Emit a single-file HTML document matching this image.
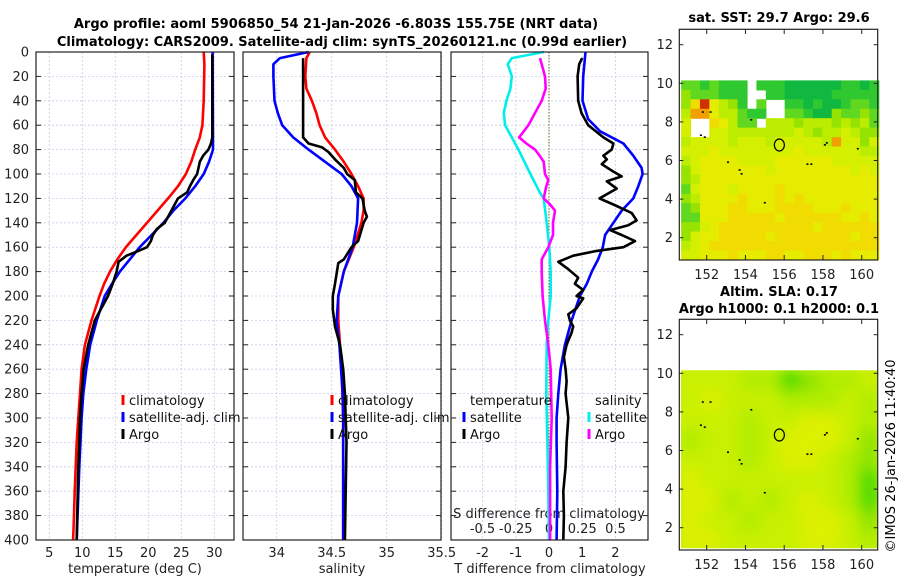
<!DOCTYPE html>
<html><head><meta charset="utf-8">
<style>
html,body{margin:0;padding:0;background:#fff;}
svg{display:block;font-family:"DejaVu Sans","Liberation Sans",sans-serif;}
</style></head>
<body>
<svg id="fig" width="900" height="580" viewBox="0 0 900 580" xmlns="http://www.w3.org/2000/svg">
<defs>
<filter id="blur" x="-5%" y="-5%" width="110%" height="110%"><feGaussianBlur stdDeviation="7" edgeMode="duplicate"/></filter>
<clipPath id="clipMap2"><rect x="681" y="370.3" width="196" height="178"/></clipPath>
</defs>
<text x="336" y="28" text-anchor="middle" font-size="13" font-weight="bold">Argo profile: aoml 5906850_54 21-Jan-2026 -6.803S 155.75E (NRT data)</text>
<text x="342" y="46" text-anchor="middle" font-size="13" font-weight="bold">Climatology: CARS2009. Satellite-adj clim: synTS_20260121.nc (0.99d earlier)</text>
<text x="779" y="22" text-anchor="middle" font-size="13" font-weight="bold">sat. SST: 29.7 Argo: 29.6</text>
<text x="779" y="296" text-anchor="middle" font-size="13" font-weight="bold">Altim. SLA: 0.17</text>
<text x="779" y="313" text-anchor="middle" font-size="13" font-weight="bold">Argo h1000: 0.1 h2000: 0.1</text>
<text transform="translate(895,456) rotate(-90)" text-anchor="middle" font-size="13">©IMOS 26-Jan-2026 11:40:40</text>
<g id="layer"></g>
</svg>
<script>
// ---------- profile data ----------
const tClimDepth=[0,10,40,60,70,80,90,100,110,120,130,140,150,160,170,180,190,200,220,240,260,280,300,320,340,360,380,400];
const tClimVal=[28.4,28.5,28.4,28.2,27.8,27.1,26.5,25.7,24.5,23.0,21.4,19.8,18.2,16.6,15.3,14.2,13.3,12.6,11.4,10.4,9.9,9.65,9.4,9.15,9.0,8.85,8.75,8.6];
const tSatDepth=[0,80,90,100,110,120,130,140,150,160,170,180,190,200,220,240,260,280,300,340,400];
const tSatVal=[29.75,29.8,29.2,28.4,27.1,25.6,23.8,22.3,20.5,18.7,17.2,15.7,14.5,13.4,12.2,11.2,10.6,10.15,9.9,9.55,9.15];
const tArgoDepth=[2,70,75,80,85,90,95,100,105,110,115,120,125,130,140,145,150,155,160,163,167,172,180,190,200,220,240,260,280,300,320,340,400];
const tArgoVal=[29.7,29.7,29.5,29.1,28.3,27.8,27.6,27.4,26.8,26.3,25.9,24.5,24.0,23.5,22.5,21.3,20.7,20.4,19.8,18.5,16.7,15.5,15.2,14.6,13.9,11.9,10.9,10.2,9.9,9.65,9.55,9.4,9.15];

const sClimDepth=[0,5,20,30,40,50,60,70,80,90,100,110,120,130,140,160,180,200,220,240,260,300,400];
const sClimVal=[34.30,34.27,34.26,34.27,34.32,34.36,34.39,34.44,34.53,34.61,34.68,34.74,34.79,34.79,34.77,34.70,34.61,34.56,34.56,34.575,34.59,34.605,34.605];
const sSatDepth=[0,5,10,20,40,50,60,70,80,90,100,110,120,140,160,180,200,220,240,280,300,400];
const sSatVal=[34.29,34.03,33.97,33.97,33.98,34.01,34.05,34.15,34.29,34.44,34.59,34.68,34.74,34.73,34.69,34.61,34.56,34.545,34.57,34.60,34.605,34.605];
const sArgoDepth=[5,70,75,78,82,88,95,100,105,115,120,130,135,140,155,160,170,173,190,200,211,225,240,260,280,320,400];
const sArgoVal=[34.24,34.24,34.29,34.41,34.47,34.53,34.61,34.64,34.71,34.72,34.78,34.80,34.82,34.79,34.74,34.68,34.61,34.56,34.53,34.51,34.51,34.53,34.575,34.605,34.62,34.635,34.62];

const dSsatDepth=[0,5,10,20,30,40,50,60,70,80,100,115,120,140,160,180,200,220,240,280,320,360,400];
const dSsatVal=[-0.038,-0.28,-0.31,-0.28,-0.29,-0.32,-0.34,-0.33,-0.28,-0.23,-0.14,-0.07,-0.04,-0.017,0.002,0.013,0.013,-0.005,-0.017,-0.02,-0.012,-0.005,0];
const dSargoDepth=[5,20,30,40,50,60,70,75,80,85,90,100,105,110,120,125,130,140,150,160,170,180,200,220,240,260,300,340,400];
const dSargoVal=[-0.068,-0.03,-0.025,-0.055,-0.105,-0.155,-0.225,-0.17,-0.105,-0.07,-0.04,-0.03,-0.005,-0.02,-0.04,0.008,0.045,0.03,0.03,-0.005,-0.055,-0.055,-0.048,-0.03,-0.005,0.013,0.02,0.008,0.008];
const dTsatDepth=[0,20,40,55,65,75,85,95,100,110,120,130,140,150,160,170,180,190,200,220,240,260,280,300,320,360,400];
const dTsatVal=[1.1,1.03,1.01,1.18,1.54,2.24,2.54,2.79,2.82,2.69,2.54,2.19,1.94,1.69,1.62,1.48,1.29,1.14,0.93,0.68,0.48,0.35,0.28,0.23,0.23,0.25,0.23];
const dTargoDepth=[5,10,20,40,50,60,70,75,80,85,88,92,98,102,106,112,120,125,132,138,142,146,150,155,160,163,167,172,178,185,190,195,200,202,210,215,220,225,230,240,250,260,270,280,300,320,340,360,380,400];
const dTargoVal=[1.0,0.91,0.86,0.88,0.98,1.18,1.64,1.94,1.89,1.64,1.74,1.59,1.94,2.19,1.74,2.04,1.52,1.94,2.49,2.64,2.39,1.84,2.19,2.59,2.24,1.44,0.73,0.28,0.58,0.88,0.78,1.03,0.83,1.03,0.83,0.58,0.63,0.73,0.68,0.53,0.45,0.5,0.53,0.5,0.58,0.53,0.5,0.43,0.45,0.43];

const depthTicks=[0,20,40,60,80,100,120,140,160,180,200,220,240,260,280,300,320,340,360,380,400];
const tempTicks=[5,10,15,20,25,30];
const salTicks=[34,34.5,35,35.5];
const tdiffTicks=[-2,-1,0,1,2];
const sdiffTicks=[-0.5,-0.25,0,0.25,0.5];
const sdiffTickLabels=["-0.5","-0.25","0","0.25","0.5"];

// ---------- map data (rows from north, 21 cols) ----------
const sstRows=[
"2212111"+"w111000"+"0001101",
"3222111"+"ww11000"+"0011111",
"3796431"+"w2ww110"+"1001221",
"4886442"+"11ww221"+"0032232",
"5ww7642"+"2w44434"+"4434342",
"5ww5544"+"4444454"+"3445433",
"4555545"+"5545555"+"5485535",
"5556555"+"5555565"+"5555544",
"4566665"+"5556666"+"6655555",
"3566666"+"6656666"+"6666565",
"3466666"+"6666666"+"6666666",
"2566656"+"6667666"+"6666666",
"3466667"+"6667676"+"6666666",
"2366677"+"6667777"+"6667666",
"2266677"+"7776777"+"7776676",
"3356777"+"7777777"+"6777777",
"3566777"+"7767777"+"7777677",
"4567777"+"7777777"+"7777777",
"5566676"+"6677667"+"7767666"
];
const slaRows=["bbbccedccb","babbbcccbc","bbbcbbaabc","cbbcbaaabd","bbbcbaabcd","abbbbbbbce","aacbcbabce","abbcbbaabd","aabbbbaabc"];
const sstPalette={"0":"#10b840","1":"#30c830","2":"#60d820","3":"#96e200","4":"#bcec00","5":"#d4f000","6":"#e6ec00","7":"#f0dc00","8":"#f0a000","9":"#d03000"};
const slaPalette={a:"#dcf000",b:"#c8f000",c:"#b0ec00",d:"#8ee400",e:"#4cdc00"};
const coastLon=[151.8,152.2,154.3,151.7,151.9,153.1,153.7,153.8,157.2,157.4,158.2,158.1,159.8,155.0];
const coastLat=[8.5,8.5,8.1,7.3,7.2,5.9,5.5,5.3,5.8,5.8,6.9,6.8,6.6,3.8];
const argoLon=155.75, argoLat=6.803;

// ---------- helpers ----------
const NS="http://www.w3.org/2000/svg";
const layer=document.getElementById('layer');
function mk(tag,attrs,parent){const e=document.createElementNS(NS,tag);for(const k in attrs)e.setAttribute(k,attrs[k]);(parent||layer).appendChild(e);return e;}
const Y0=52,Y1=540;
const yD=d=>Y0+d*(Y1-Y0)/400;
const panels=[
 {x0:36,x1:234,name:'temperature-panel'},
 {x0:243,x1:441,name:'salinity-panel'},
 {x0:451,x1:648,name:'difference-panel'}
];
const xT=t=>49.3+(t-5)*6.6;
const xS=s=>276.7+(s-34)*110;
const xdT=t=>549+t*33.2;
const xdS=s=>549+s*133;

panels.forEach((p,i)=>{
 const g=mk('g',{});
 
 
 depthTicks.forEach(d=>{
  const l=mk('line',{x1:p.x0,x2:p.x1,y1:yD(d),y2:yD(d),stroke:'#c4cce8','stroke-width':0.8,'stroke-dasharray':'2,2'},g);
  
  
  mk('line',{x1:p.x0,x2:p.x0+5,y1:yD(d),y2:yD(d),stroke:'#222'},g);
  mk('line',{x1:p.x1-5,x2:p.x1,y1:yD(d),y2:yD(d),stroke:'#222'},g);
 });
 let xs=[];
 if(i===0)xs=tempTicks.map(xT);
 if(i===1)xs=salTicks.map(xS);
 if(i===2)xs=tdiffTicks.map(xdT);
 xs.forEach(x=>{
  const l=mk('line',{x1:x,x2:x,y1:Y0,y2:Y1,stroke:'#c4cce8','stroke-width':0.8,'stroke-dasharray':'2,2'},g);
  
  
 });
});

depthTicks.forEach(d=>{
 const t=mk('text',{x:29,y:yD(d)+4.5,'text-anchor':'end','font-size':13,fill:'#222'});
 t.textContent=d;
 
 
});
function xlab(list,fx,labels,y,name){list.forEach((v,k)=>{const t=mk('text',{x:fx(v),y:y,'text-anchor':'middle','font-size':13,fill:'#222'});t.textContent=labels?labels[k]:v;});}
xlab(tempTicks,xT,null,557,'temperature-tick-label');
xlab(salTicks,xS,null,557,'salinity-tick-label');
xlab(tdiffTicks,xdT,null,557,'tdiff-tick-label');
xlab(sdiffTicks,xdS,sdiffTickLabels,533,'sdiff-tick-label');
const at=[[135,573,'temperature (deg C)','x-axis-title-temperature'],[342,573,'salinity','x-axis-title-salinity'],[550,573,'T difference from climatology','x-axis-title-tdiff'],[549,518,'S difference from climatology','x-axis-title-sdiff']];
at.forEach(a=>{const t=mk('text',{x:a[0],y:a[1],'text-anchor':'middle','font-size':13,fill:'#222'});t.textContent=a[2];});

const zl=mk('line',{x1:549,x2:549,y1:Y0,y2:Y1,stroke:'#6b6b20','stroke-width':1,'stroke-dasharray':'1.5,1.5'});



function series(depths,vals,fx,color,name){
 const pts=depths.map((d,k)=>fx(vals[k]).toFixed(1)+','+yD(d).toFixed(1)).join(' ');
 const pl=mk('polyline',{points:pts,fill:'none',stroke:color,'stroke-width':2.6,'stroke-linejoin':'round'});
 
 
}
series(tClimDepth,tClimVal,xT,'#ff0000','temp-climatology-line');
series(tSatDepth,tSatVal,xT,'#0000ff','temp-satellite-adj-line');
series(tArgoDepth,tArgoVal,xT,'#000','temp-argo-line');
series(sClimDepth,sClimVal,xS,'#ff0000','sal-climatology-line');
series(sSatDepth,sSatVal,xS,'#0000ff','sal-satellite-adj-line');
series(sArgoDepth,sArgoVal,xS,'#000','sal-argo-line');
series(dSsatDepth,dSsatVal,xdS,'#00eeee','sdiff-satellite-line');
series(dSargoDepth,dSargoVal,xdS,'#ff00ff','sdiff-argo-line');
series(dTsatDepth,dTsatVal,xdT,'#0000ff','tdiff-satellite-line');
series(dTargoDepth,dTargoVal,xdT,'#000','tdiff-argo-line');

panels.forEach(p=>{const r=mk('rect',{x:p.x0,y:Y0,width:p.x1-p.x0,height:Y1-Y0,fill:'none',stroke:'#222','stroke-width':1.2});});

function legend(x,y,color,label,name){
 mk('rect',{x:x-1.5,y:y-10,width:3,height:10,fill:color});
 const t=mk('text',{x:x+6,y:y,'font-size':13,fill:'#111'});t.textContent=label;
 
 
}
legend(123,405,'#ff0000','climatology','legend-entry-climatology');
legend(123,422,'#0000ff','satellite-adj. clim','legend-entry-satellite-adj');
legend(123,439,'#000','Argo','legend-entry-argo');
legend(332,405,'#ff0000','climatology','legend-entry-climatology-2');
legend(332,422,'#0000ff','satellite-adj. clim','legend-entry-satellite-adj-2');
legend(332,439,'#000','Argo','legend-entry-argo-2');
{const t=mk('text',{x:470,y:405,'font-size':13,fill:'#111'});t.textContent='temperature';}
{const t=mk('text',{x:595,y:405,'font-size':13,fill:'#111'});t.textContent='salinity';}
legend(464,422,'#0000ff','satellite','legend-entry-t-satellite');
legend(464,439,'#000','Argo','legend-entry-t-argo');
legend(589,422,'#00eeee','satellite','legend-entry-s-satellite');
legend(589,439,'#ff00ff','Argo','legend-entry-s-argo');

// ---------- maps ----------
const MX0=679.3,MX1=877.7;
const lonX=lon=>706.7+(lon-152)*19.375;
const latY=(lat,off)=>off+83.3+(10-lat)*19.3;
const lonTicks=[152,154,156,158,160];
const latTicks=[2,4,6,8,10,12];
const DATA_TOP=10.15, DATA_LEFT=150.68, DATA_RIGHT=160.88, DATA_BOT=0.85;

function drawMap(off,rows,pal,name,blur){
 const g=mk('g',{});
 
 
 const nr=rows.length, nc=rows[0].length;
 const dLat=(DATA_TOP-DATA_BOT)/nr, dLon=(DATA_RIGHT-DATA_LEFT)/nc;
 let cg=g;
 if(blur){
  const outer=mk('g',{'clip-path':'url(#clipMap2)'},g);
  mk('rect',{x:681,y:370.3,width:196,height:178,fill:'#c8f000'},outer);
  cg=mk('g',{filter:'url(#blur)'},outer);
 }
 rows.forEach((row,r)=>{
  for(let c=0;c<nc;c++){
   const ch=row[c]||row[row.length-1];
   const col=pal[ch]; if(!col) continue;
   const x=lonX(DATA_LEFT+c*dLon), y=latY(DATA_TOP-r*dLat,off);
   const cell=mk('rect',{x:x.toFixed(2),y:y.toFixed(2),width:(dLon*19.375+0.6).toFixed(2),height:(dLat*19.3+0.6).toFixed(2),fill:col},cg);
   
   
  }
 });
 coastLon.forEach((lo,k)=>{const d=mk('rect',{x:lonX(lo)-1,y:latY(coastLat[k],off)-1,width:2,height:1.6,fill:'#000'},g);});
 const ci=mk('ellipse',{cx:lonX(argoLon),cy:latY(argoLat,off),rx:5,ry:6,fill:'none',stroke:'#000','stroke-width':1.2},g);
 
 
 const fr=mk('rect',{x:MX0,y:off+29.3,width:MX1-MX0,height:230.7,fill:'none',stroke:'#222','stroke-width':1.2},g);
 
 
 lonTicks.forEach(lo=>{
  const x=lonX(lo);
  mk('line',{x1:x,x2:x,y1:off+260,y2:off+255,stroke:'#222'},g);
  mk('line',{x1:x,x2:x,y1:off+29.3,y2:off+34,stroke:'#222'},g);
  const t=mk('text',{x:x,y:off+279,'text-anchor':'middle','font-size':13,fill:'#222'},g);t.textContent=lo;
  
  
 });
 latTicks.forEach(la=>{
  const y=latY(la,off);
  mk('line',{x1:MX0,x2:MX0+4,y1:y,y2:y,stroke:'#222'},g);
  mk('line',{x1:MX1-4,x2:MX1,y1:y,y2:y,stroke:'#222'},g);
  const t=mk('text',{x:673,y:y+4.5,'text-anchor':'end','font-size':13,fill:'#222'},g);t.textContent=la;
  
  
 });
}
drawMap(0,sstRows,sstPalette,'sst-map',false);
drawMap(290,slaRows,slaPalette,'sla-map',true);
</script>
</body></html>
